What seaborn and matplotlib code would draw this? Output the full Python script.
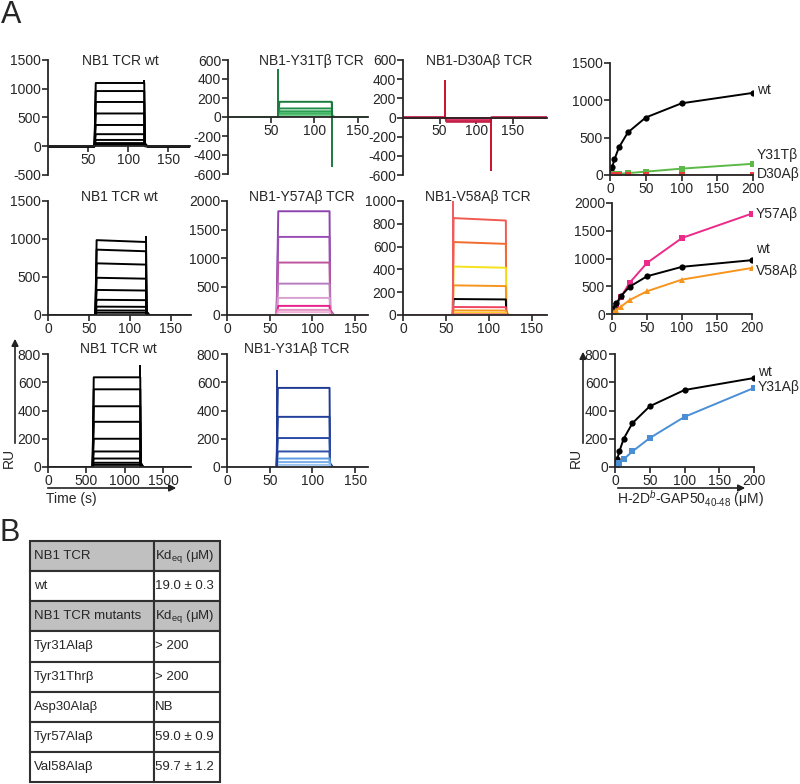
import numpy as np
import pandas as pd
import matplotlib.pyplot as plt
import seaborn as sns

W, H = 800, 784

# --- sensorgram plateau levels (RU) ---
wt1_levels = [1100, 960, 770, 570, 370, 210, 110, 55, 25]
y31t_levels = [160, 90, 60, 40, 25, 15, 8]
d30a_levels = [-20, -30, -38, -45]
wt2_levels = [985, 860, 680, 490, 330, 200, 110, 60, 30]
y57a_levels = [1820, 1370, 920, 550, 300, 160, 90, 50]
v58a_levels = [850, 640, 425, 260, 140, 70, 40, 20, 8]
wt3_levels = [635, 550, 430, 320, 200, 110, 60, 30, 15]
y31a_levels = [560, 355, 205, 110, 60, 35, 15]

# --- sensorgram colours ---
wt_colors = ["black"] * 9
y31t_colors = ["#1b7a3e", "#21904a", "#28a050", "#34b05c", "#4cbc6c", "#66c680", "#7ccf92"]
d30a_colors = ["#e0407a", "#d8356a", "#cc2a55", "#c41f45"]
y57a_colors = ["#8e44ad", "#9b4fb5", "#c0559f", "#b77cc0", "#d8a0d0", "#e8208a", "#e48fc0", "#f0b0d8"]
v58a_colors = ["#f05a50", "#f26b2f", "#f5e31a", "#f7941d", "black", "#ef4560", "#f7941d", "#f9d030", "#f48080"]
y31a_colors = ["#1f3a93", "#22409a", "#2a4ba5", "#3050a8", "#5a9ae0", "#7ab0e8", "#9cc4ee"]

# --- binding (equilibrium) data ---
conc9 = [0, 1.5625, 3.125, 6.25, 12.5, 25, 50, 100, 200]
conc8 = [0, 3.125, 6.25, 12.5, 25, 50, 100, 200]
bind_wt1 = [0, 55, 110, 210, 370, 570, 770, 960, 1100]
bind_y31t = [0, 5, 8, 15, 25, 45, 85, 150]
bind_d30a = [0, -2, -3, -4, -5, -5, -5, -5]
bind_wt2 = [0, 50, 100, 190, 320, 490, 680, 850, 970]
bind_y57a = [0, 80, 150, 300, 560, 920, 1370, 1810]
bind_v58a = [0, 35, 70, 130, 250, 410, 620, 830]
bind_wt3 = [0, 30, 55, 110, 200, 310, 430, 545, 630]
bind_y31a = [0, 15, 25, 55, 110, 205, 355, 560]

# --- table ---
table_names = ["NB1 TCR", "wt", "NB1 TCR mutants", "Tyr31Alaβ", "Tyr31Thrβ",
               "Asp30Alaβ", "Tyr57Alaβ", "Val58Alaβ"]
table_kd = ["Kd$_{\\mathrm{eq}}$ (μM)", "19.0 ± 0.3", "Kd$_{\\mathrm{eq}}$ (μM)", "> 200",
            "> 200", "NB", "59.0 ± 0.9", "59.7 ± 1.2"]
header_rows = [0, 2]

sns.set_style("ticks")
plt.rcParams["font.family"] = ["Liberation Sans", "DejaVu Sans"]
plt.rcParams["mathtext.fontset"] = "custom"
plt.rcParams["mathtext.rm"] = "Liberation Sans"
plt.rcParams["mathtext.it"] = "Liberation Sans:italic"
plt.rcParams["axes.unicode_minus"] = False

FS = 10

fig = plt.figure(figsize=(8, 7.84), dpi=100)


def px_rect(l, t, r, b):
    return [l / W, 1 - b / H, (r - l) / W, (b - t) / H]


def fx(x):
    return x / W


def fy(y):
    return 1 - y / H


def sensorgram(levels, on, off, tmax, ramp, drift=1.0):
    rows = []
    for i, p in enumerate(levels):
        ts = [0, on, on + ramp, off, off + ramp * 0.4, off + ramp * 2.5, tmax]
        ys = [0, 0, p, p * drift, p * 0.05, 0, 0]
        for t, y in zip(ts, ys):
            rows.append({"t": t, "ru": y, "level": str(i)})
    return pd.DataFrame(rows)


def style(ax, xlim, ylim, xticks, yticks, zero=False):
    ax.set_xlim(xlim)
    ax.set_ylim(ylim)
    ax.set_xticks(xticks)
    ax.set_yticks(yticks)
    sns.despine(ax=ax)
    if zero:
        ax.spines["bottom"].set_position(("data", 0))
    ax.tick_params(labelsize=FS, length=4, width=1.2, pad=1)
    for s in ax.spines.values():
        s.set_linewidth(1.3)
    ax.set_xlabel("")
    ax.set_ylabel("")


def draw_trace(ax, levels, colors, on, off, tmax, ramp, drift=1.0,
               spike_on=None, spike_off=None, spike_color=None):
    df = sensorgram(levels, on, off, tmax, ramp, drift)
    pal = {str(i): c for i, c in enumerate(colors)}
    sns.lineplot(data=df, x="t", y="ru", hue="level", palette=pal, estimator=None,
                 sort=False, legend=False, lw=1.4, ax=ax)
    sc = spike_color or colors[0]
    if spike_on is not None:
        ax.vlines(on, 0, spike_on, color=sc, lw=1.4)
    if spike_off is not None:
        ax.vlines(off, levels[0] * drift, spike_off, color=sc, lw=1.4)


def draw_binding(ax, x, y, color, marker, label, dy=0):
    sns.lineplot(x=x, y=y, color=color, marker=marker, markersize=4.5,
                 markeredgewidth=0, lw=1.4, ax=ax)
    ax.annotate(label, (x[-1], y[-1]), xytext=(3, dy), textcoords="offset points",
                fontsize=FS, va="center", ha="left", annotation_clip=False)


# ---------------- row 1 ----------------
ax = fig.add_axes(px_rect(48, 60, 190, 175))
draw_trace(ax, wt1_levels, wt_colors, 58, 120, 200, 1.5, spike_off=1160)
style(ax, (0, 177), (-500, 1500), [50, 100, 150], [-500, 0, 500, 1000, 1500], zero=True)

ax = fig.add_axes(px_rect(228, 60, 368, 174))
draw_trace(ax, y31t_levels, y31t_colors, 58, 120, 200, 1.5, spike_on=500, spike_off=-530)
style(ax, (0, 162), (-600, 600), [50, 100, 150], list(range(-600, 601, 200)), zero=True)

ax = fig.add_axes(px_rect(403, 60, 547, 175))
draw_trace(ax, d30a_levels, d30a_colors, 58, 120, 210, 1.5, spike_on=390, spike_off=-560,
           spike_color="#c8102e")
ax.axhline(0, color="#d81b2e", lw=1.4)
style(ax, (0, 197), (-600, 600), [50, 100, 150], list(range(-600, 601, 200)), zero=True)

ax = fig.add_axes(px_rect(610, 63, 753, 175))
draw_binding(ax, conc9, bind_wt1, "black", "o", "wt", dy=2)
draw_binding(ax, conc8, bind_y31t, "#5cb947", "s", "Y31Tβ", dy=6)
draw_binding(ax, conc8, bind_d30a, "#ee3b3b", "s", "D30Aβ", dy=1)
style(ax, (0, 200), (0, 1500), [0, 50, 100, 150, 200], [0, 500, 1000, 1500])

# ---------------- row 2 ----------------
ax = fig.add_axes(px_rect(48, 201, 191, 315))
draw_trace(ax, wt2_levels, wt_colors, 58, 120, 200, 1.5, drift=0.975, spike_off=1040)
style(ax, (0, 175), (0, 1500), [0, 50, 100, 150], [0, 500, 1000, 1500])

ax = fig.add_axes(px_rect(227, 201, 368, 315))
draw_trace(ax, y57a_levels, y57a_colors, 58, 120, 200, 2.0)
style(ax, (0, 165), (0, 2000), [0, 50, 100, 150], [0, 500, 1000, 1500, 2000])

ax = fig.add_axes(px_rect(403, 201, 547, 315))
draw_trace(ax, v58a_levels, v58a_colors, 58, 120, 200, 1.0, drift=0.975, spike_on=1000,
           spike_color="#f05a60")
style(ax, (0, 168), (0, 1000), [0, 50, 100, 150], [0, 200, 400, 600, 800, 1000])

ax = fig.add_axes(px_rect(612, 203, 752, 314))
draw_binding(ax, conc8, bind_y57a, "#ec2a8a", "s", "Y57Aβ")
draw_binding(ax, conc9, bind_wt2, "black", "o", "wt", dy=8)
draw_binding(ax, conc8, bind_v58a, "#f7941d", "^", "V58Aβ", dy=-2)
style(ax, (0, 200), (0, 2000), [0, 50, 100, 150, 200], [0, 500, 1000, 1500, 2000])

# ---------------- row 3 ----------------
ax = fig.add_axes(px_rect(48, 354, 191, 467))
draw_trace(ax, wt3_levels, wt_colors, 580, 1200, 2000, 15, spike_off=720)
style(ax, (0, 1860), (0, 800), [0, 500, 1000, 1500], [0, 200, 400, 600, 800])

ax = fig.add_axes(px_rect(227, 354, 368, 467))
draw_trace(ax, y31a_levels, y31a_colors, 58, 120, 200, 1.5, spike_on=690)
style(ax, (0, 165), (0, 800), [0, 50, 100, 150], [0, 200, 400, 600, 800])

ax = fig.add_axes(px_rect(615, 354, 754, 467))
draw_binding(ax, conc9, bind_wt3, "black", "o", "wt", dy=4)
draw_binding(ax, conc8, bind_y31a, "#4a8fd6", "s", "Y31Aβ", dy=1)
style(ax, (0, 200), (0, 800), [0, 50, 100, 150, 200], [0, 200, 400, 600, 800])

# ---------------- titles ----------------
titles = [("NB1 TCR wt", 120, 61), ("NB1-Y31Tβ TCR", 311, 61), ("NB1-D30Aβ TCR", 479, 61),
          ("NB1 TCR wt", 119, 197), ("NB1-Y57Aβ TCR", 302, 197), ("NB1-V58Aβ TCR", 478, 197),
          ("NB1 TCR wt", 118, 349), ("NB1-Y31Aβ TCR", 297, 349)]
for txt, x, y in titles:
    fig.text(fx(x), fy(y), txt, ha="center", va="center", fontsize=FS)

# ---------------- arrows and axis captions ----------------
arrow = dict(arrowstyle="-|>", color="#222222", lw=1.2, mutation_scale=10)
fig.add_artist(plt.matplotlib.patches.FancyArrowPatch((fx(45), fy(488)), (fx(179), fy(488)),
                                                      transform=fig.transFigure, **arrow))
fig.text(fx(46), fy(499), "Time (s)", ha="left", va="center", fontsize=FS)
fig.add_artist(plt.matplotlib.patches.FancyArrowPatch((fx(15), fy(446)), (fx(15), fy(336)),
                                                      transform=fig.transFigure, **arrow))
fig.text(fx(9), fy(458), "RU", ha="center", va="center", rotation=90, fontsize=FS)

fig.add_artist(plt.matplotlib.patches.FancyArrowPatch((fx(615), fy(488)), (fx(748), fy(488)),
                                                      transform=fig.transFigure, **arrow))
fig.text(fx(690), fy(499), "H-2D$^{b}$-GAP50$_{\\mathrm{40\\text{-}48}}$ (μM)", ha="center",
         va="center", fontsize=FS)
fig.add_artist(plt.matplotlib.patches.FancyArrowPatch((fx(583), fy(446)), (fx(583), fy(349)),
                                                      transform=fig.transFigure, **arrow))
fig.text(fx(576), fy(458), "RU", ha="center", va="center", rotation=90, fontsize=FS)

fig.text(fx(1), fy(15), "A", ha="left", va="center", fontsize=22)
fig.text(fx(0), fy(533), "B", ha="left", va="center", fontsize=22)

# ---------------- table ----------------
ax_t = fig.add_axes(px_rect(30, 541, 220, 782))
ax_t.axis("off")
tab = ax_t.table(cellText=[[n, k] for n, k in zip(table_names, table_kd)], cellLoc="left",
                 colWidths=[0.653, 0.347], bbox=[0, 0, 1, 1])
tab.auto_set_font_size(False)
tab.set_fontsize(9.5)
for (r, c), cell in tab.get_celld().items():
    cell.set_linewidth(1.5)
    cell.set_edgecolor("#303030")
    cell.PAD = 0.03 if c == 0 else 0.01
    if r in header_rows:
        cell.set_facecolor("#c0c0c0")

fig.savefig("out.png", dpi=100)
